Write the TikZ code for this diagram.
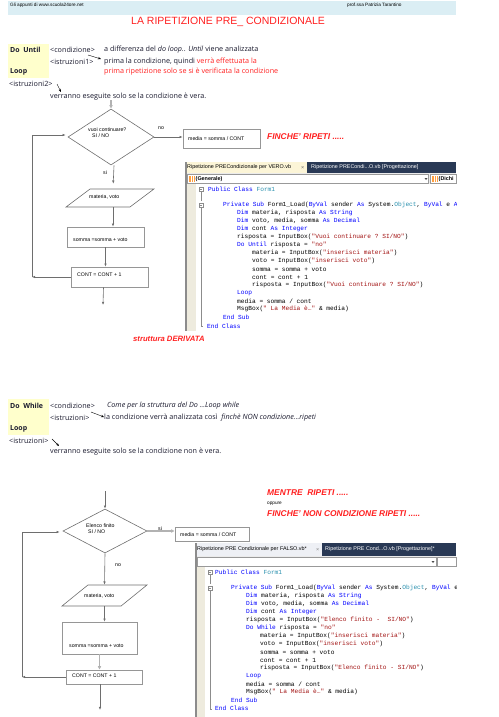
\documentclass[tikz,border=0pt]{standalone}
\usepackage{fontspec}
\setmainfont{Liberation Sans}
\setmonofont{Liberation Mono}
\newfontfamily\comicfont{Open Sans}
\usetikzlibrary{positioning}
\usetikzlibrary{calc}
\usetikzlibrary{arrows.meta}
\usetikzlibrary{shapes.geometric}
\definecolor{hdrblue}{RGB}{219,238,244}
\definecolor{notered}{RGB}{255,32,32}
\definecolor{noteyellow}{RGB}{255,255,204}
\definecolor{boxgray}{RGB}{150,150,150}
\definecolor{linegray}{RGB}{110,110,110}
\definecolor{vbblue}{RGB}{0,0,255}
\definecolor{vbred}{RGB}{163,21,21}
\definecolor{vbteal}{RGB}{43,145,175}
\definecolor{tabnavy}{RGB}{41,57,85}
\definecolor{tabcream}{RGB}{252,245,215}
\definecolor{tabpale}{RGB}{238,240,245}
\definecolor{gutter}{RGB}{238,235,222}
\definecolor{textink}{RGB}{25,25,45}

\newcommand{\vbkw}[1]{\textcolor{vbblue}{#1}}
\newcommand{\vbstr}[1]{\textcolor{vbred}{#1}}
\newcommand{\vbtyp}[1]{\textcolor{vbteal}{#1}}
\newcommand{\rosso}[1]{\textcolor{notered}{#1}}

\tikzset{
  body/.style={anchor=west, inner sep=0pt, text=textink, font=\comicfont\fontsize{7.2}{8}\selectfont},
  bodybold/.style={body, font=\comicfont\bfseries\fontsize{7}{8}\selectfont},
  note/.style={anchor=west, inner sep=0pt, text=notered, font=\bfseries\itshape\fontsize{8.4}{9}\selectfont},
  tinytext/.style={anchor=west, inner sep=0pt, font=\fontsize{4.7}{5}\selectfont},
  tabtext/.style={anchor=west, inner sep=0pt, font=\fontsize{5.4}{6}\selectfont},
  lbl/.style={anchor=west, inner sep=0pt, align=left, font=\fontsize{5.2}{6}\selectfont},
  codeline/.style={anchor=west, inner sep=0pt, font=\ttfamily\fontsize{6.2}{7}\selectfont},
  flowbox/.style={draw=boxgray, line width=0.6pt, fill=white, inner sep=0pt},
  decision/.style={diamond, draw=linegray, line width=0.6pt, inner sep=0pt},
  inout/.style={trapezium, trapezium stretches=true, draw=linegray, line width=0.6pt, inner sep=2pt},
  flowline/.style={draw=linegray, line width=0.6pt},
  flowarrow/.style={flowline, -{Latex[length=3.2pt,width=2.6pt]}},
  widearrow/.style={draw=black!30, line width=1.5pt, -{Latex[length=3.5pt,width=3.8pt]}},
  pointer/.style={draw=black, line width=0.4pt, -{Stealth[length=3pt,width=2.4pt]}}
}

\begin{document}
\begin{tikzpicture}[x=1pt,y=-1pt]
\useasboundingbox (0,0) rectangle (498,717);

% intestazione
\fill[hdrblue] (8,1) rectangle (456,15);
\node[tinytext] (hleft) at (10,5) {Gli appunti di www.scuola24ore.net};
\node[tinytext] (hright) at (347,5) {prof.ssa Patrizia Tarantino};
\node[anchor=west, inner sep=0pt, text=notered, font=\fontsize{10.5}{12}\selectfont] (titolo) at (131,22) {LA RIPETIZIONE PRE\_ CONDIZIONALE};

% --- Do Until ---
\fill[noteyellow] (8,44) rectangle (49,78);
\node[bodybold] (until) at (10,50) {Do\ \ Until};
\node[bodybold] (loopa) at (10,72) {Loop};
\node[body] (conda) at (50,50) {<condizione>};
\node[body] (istra) at (50,62) {<istruzioni1>};
\node[body] (istrb) at (9,84) {<istruzioni2>};
\node[body] (ua1) at (104,50) {a differenza del \textit{do loop.}. \textit{Until} viene analizzata};
\node[body] (ua2) at (104,62) {prima la condizione, quindi \rosso{verrà effettuata la}};
\node[body, text=notered] (ua3) at (104,72) {prima ripetizione solo se si è verificata la condizione};
\node[body] (ua4) at (50,97) {verranno eseguite solo se la condizione è vera.};
\coordinate (pa1) at (88,55);
\coordinate (pa2) at (101,59);
\coordinate (pb1) at (57,84);
\coordinate (pb2) at (61,92);
\draw[pointer] (pa1) -- (pa2);
\draw[pointer] (pb1) -- (pb2);

% diagramma per VERO
\coordinate (t0) at (111,100);
\node[decision, minimum width=86pt, minimum height=56pt] (d1) at (111,137) {};
\node[lbl] (d1t) at (88,133) {vuoi continuare?\\\hspace*{4pt}SI / NO};
\node[flowbox, minimum width=77pt, minimum height=19pt] (m1) at (221.5,138.5) {};
\node[lbl] (m1t) at (188,139) {media = somma / CONT};
\node[inout, trapezium left angle=59, trapezium right angle=121, minimum width=88pt, minimum height=18pt] (p1) at (110,198) {};
\node[lbl] (p1t) at (89,197) {materia, voto};
\node[flowbox, minimum width=77pt, minimum height=20pt] (s1) at (105.5,237) {};
\node[lbl] (s1t) at (73,240) {somma =somma + voto};
\node[flowbox, minimum width=77pt, minimum height=20pt] (c1) at (109.5,277) {};
\node[lbl] (c1t) at (77,275) {CONT = CONT + 1};
\node[lbl] (no1) at (158,128) {no};
\node[lbl] (si1) at (103,173) {si};
\coordinate (lp0) at (32,277);
\coordinate (lp1) at (32,135);
\coordinate (e1) at (103,305);
\draw[widearrow] (t0) -- (d1.north);
\draw[flowarrow] (d1.east) -- (m1.west |- d1.east);
\draw[flowarrow, shorten >=5pt] (d1.south) ++(3,0) -- ($(p1.north)+(3,0)$);
\draw[flowarrow] ($(p1.south)+(3,0)$) -- ($(p1.south |- s1.north)+(3,0)$);
\draw[flowarrow] (s1.south) -- (s1.south |- c1.north);
\draw[flowarrow] (c1.west) -- (lp0);
\draw[flowline] (lp0) -- (lp1);
\draw[flowarrow, shorten >=2pt] (lp1) -- (lp1 -| d1.west);
\draw[flowarrow] (c1.south) ++(-6,0) -- (e1);
\node[note] (finche1) at (267,137) {FINCHE' RIPETI .....};
\node[note, font=\bfseries\itshape\fontsize{7.7}{9}\selectfont] (derivata) at (133,339) {struttura DERIVATA};

% finestra codice per VERO
\fill[white] (186,162) rectangle (456,331);
\fill[tabnavy] (186,162) rectangle (456,173);
\fill[tabcream] (186,162) rectangle (307,173);
\node[tabtext] (tabv1) at (187,167.5) {Ripetizione PRECondizionale per VERO.vb};
\node[tabtext, text=black!60] (tabx1) at (301,167.5) {×};
\node[tabtext, text=white] (tabv2) at (311,167.5) {Ripetizione PRECondi...O.vb [Progettazione]};
\fill[black!8] (186,173) rectangle (456,184);
\draw[black!40, fill=white, line width=0.4pt] (187,174) rectangle (428.5,183.5);
\draw[black!40, fill=white, line width=0.4pt] (430,174) rectangle (456,183.5);
\fill[orange!75] (188.5,175.5) rectangle (195,182);
\fill[orange!75] (431.5,175.5) rectangle (438,182);
\draw[white, line width=0.3pt] (190.7,175.5) -- (190.7,182) (192.9,175.5) -- (192.9,182) (433.7,175.5) -- (433.7,182) (435.9,175.5) -- (435.9,182);
\node[tabtext, font=\bfseries\fontsize{5.4}{6}\selectfont] (gen1) at (195.5,178.8) {(Generale)};
\node[tabtext, font=\bfseries\fontsize{5.4}{6}\selectfont] (dich1) at (438.5,178.8) {(Dichi};
\fill[black!70] (424.5,178) -- (427.5,178) -- (426,180) -- cycle;
\begin{scope}
  \clip (186,184) rectangle (456,331);
  \fill[gutter] (187,184) rectangle (196,331);
  \draw[black!45, line width=0.3pt] (199,187) rectangle (203,191) (200,189) -- (202,189);
  \draw[black!45, line width=0.3pt] (199,203) rectangle (203,207) (200,205) -- (202,205);
  \draw[black!45, line width=0.3pt] (201,191) -- (201,201) (201,207) -- (201,326) -- (203,326);
  \foreach \cy/\cx/\ct in {
    189/208/{\vbkw{Public Class} \vbtyp{Form1}},
    205/223/{\vbkw{Private Sub} Form1\_Load(\vbkw{ByVal} sender \vbkw{As} System.\vbtyp{Object}, \vbkw{ByVal} e \vbkw{A}},
    213/237/{\vbkw{Dim} materia, risposta \vbkw{As String}},
    221/237/{\vbkw{Dim} voto, media, somma \vbkw{As Decimal}},
    229/237/{\vbkw{Dim} cont \vbkw{As Integer}},
    237/237/{risposta = InputBox(\vbstr{"Vuoi continuare ? SI/NO"})},
    245/237/{\vbkw{Do Until} risposta = \vbstr{"no"}},
    253/252/{materia = InputBox(\vbstr{"inserisci materia"})},
    261/252/{voto = InputBox(\vbstr{"inserisci voto"})},
    269/252/{somma = somma + voto},
    277/252/{cont = cont + 1},
    285/252/{risposta = InputBox(\vbstr{"Vuoi continuare ? SI/NO"})},
    293/237/{\vbkw{Loop}},
    301/237/{media = somma / cont},
    309/237/{MsgBox(\vbstr{" La Media è…"} \& media)},
    317/223/{\vbkw{End Sub}},
    326/207/{\vbkw{End Class}}
  } {
    \node[codeline] (wa\cy) at (\cx,\cy) {\ct};
  }
\end{scope}
\draw[black!45, line width=1.2pt] (186,162) -- (186,331);

% --- Do While ---
\fill[noteyellow] (8,399) rectangle (49,435);
\node[bodybold] (while) at (10,406) {Do\ \ While};
\node[bodybold] (loopb) at (10,429) {Loop};
\node[body] (condb) at (50,406) {<condizione>};
\node[body] (istrc) at (50,418) {<istruzioni>};
\node[body] (istrd) at (9,441) {<istruzioni>};
\node[body] (ub1) at (107,406) {\textit{Come per la struttura del Do ...Loop while}};
\node[body] (ub2) at (104,418) {la condizione verrà analizzata così \ \textit{finchè NON condizione...ripeti}};
\node[body] (ub3) at (50,452) {verranno eseguite solo se la condizione non è vera.};
\coordinate (pc1) at (91,412);
\coordinate (pc2) at (104,417);
\coordinate (pd1) at (52,439);
\coordinate (pd2) at (59,446);
\draw[pointer] (pc1) -- (pc2);
\draw[pointer] (pd1) -- (pd2);
\node[note] (mentre) at (267,493) {MENTRE \ RIPETI .....};
\node[tinytext] (oppure) at (267,504) {oppure};
\node[note] (finche2) at (267,514) {FINCHE' NON CONDIZIONE RIPETI .....};

% diagramma per FALSO
\coordinate (t1) at (105,491);
\node[decision, minimum width=84pt, minimum height=44pt] (d2) at (105,531) {};
\node[lbl] (d2t) at (86,529) {Elenco finito\\\hspace*{2pt}SI / NO};
\node[flowbox, minimum width=74pt, minimum height=14pt] (m2) at (212,534) {};
\node[lbl] (m2t) at (180,535) {media = somma / CONT};
\node[inout, trapezium left angle=52, trapezium right angle=128, minimum width=85pt, minimum height=21pt] (p2) at (104.5,595.5) {};
\node[lbl] (p2t) at (84,596) {materia, voto};
\node[flowbox, minimum width=75pt, minimum height=32pt] (s2) at (99.5,638) {};
\node[lbl] (s2t) at (69,646) {somma =somma + voto};
\node[flowbox, minimum width=76pt, minimum height=14pt] (c2) at (104,677) {};
\node[lbl] (c2t) at (72,676) {CONT = CONT + 1};
\node[lbl] (si2) at (158,529) {si};
\node[lbl] (no2) at (115,565) {no};
\coordinate (lq0) at (22,677);
\coordinate (lq1) at (22,532);
\coordinate (e2) at (100,710);
\draw[flowarrow] (t1) -- (d2.north);
\draw[widearrow] (d2.east) -- (m2.west |- d2.east);
\draw[flowarrow] (d2.south) -- (p2.north);
\draw[flowarrow] (p2.south) -- (p2.south |- s2.north);
\draw[widearrow] (s2.south) -- (s2.south |- c2.north);
\draw[flowarrow] (c2.west) -- (lq0);
\draw[flowline] (lq0) -- (lq1);
\draw[flowarrow, shorten >=3pt] (lq1) -- (lq1 -| d2.west);
\draw[flowarrow] (c2.south) ++(-4,0) -- (e2);

% finestra codice per FALSO
\fill[white] (196,543) rectangle (456,717);
\fill[tabnavy] (196,543) rectangle (456,556);
\fill[tabpale] (196,543) rectangle (322,556);
\node[tabtext] (tabf1) at (197,549.5) {Ripetizione PRE Condizionale per FALSO.vb*};
\node[tabtext, text=black!50] (tabx2) at (316,549.5) {×};
\node[tabtext, text=white] (tabf2) at (325,549.5) {Ripetizione PRE Cond...O.vb [Progettazione]*};
\fill[black!8] (196,556) rectangle (456,567);
\draw[black!40, fill=white, line width=0.4pt] (197,557) rectangle (436,566.5);
\draw[black!40, fill=white, line width=0.4pt] (437.5,557) rectangle (456,566.5);
\fill[black!70] (431.5,561) -- (434.5,561) -- (433,563) -- cycle;
\begin{scope}
  \clip (196,567) rectangle (456,717);
  \fill[gutter] (197,567) rectangle (205,717);
  \draw[black!45, line width=0.3pt] (208,570) rectangle (212,574) (209,572) -- (211,572);
  \draw[black!45, line width=0.3pt] (208,586) rectangle (212,590) (209,588) -- (211,588);
  \draw[black!45, line width=0.3pt] (210,574) -- (210,584) (210,590) -- (210,709) -- (212,709);
  \foreach \cy/\cx/\ct in {
    572/215/{\vbkw{Public Class} \vbtyp{Form1}},
    588/231/{\vbkw{Private Sub} Form1\_Load(\vbkw{ByVal} sender \vbkw{As} System.\vbtyp{Object}, \vbkw{ByVal} e},
    596/246/{\vbkw{Dim} materia, risposta \vbkw{As String}},
    604/246/{\vbkw{Dim} voto, media, somma \vbkw{As Decimal}},
    612/246/{\vbkw{Dim} cont \vbkw{As Integer}},
    620/246/{risposta = InputBox(\vbstr{"Elenco finito - \ SI/NO"})},
    628/246/{\vbkw{Do While} risposta = \vbstr{"no"}},
    636/260/{materia = InputBox(\vbstr{"inserisci materia"})},
    644/260/{voto = InputBox(\vbstr{"inserisci voto"})},
    652/260/{somma = somma + voto},
    660/260/{cont = cont + 1},
    668/260/{risposta = InputBox(\vbstr{"Elenco finito - SI/NO"})},
    676/246/{\vbkw{Loop}},
    684/246/{media = somma / cont},
    692/246/{MsgBox(\vbstr{" La Media è…"} \& media)},
    700/231/{\vbkw{End Sub}},
    708/215/{\vbkw{End Class}}
  } {
    \node[codeline] (wb\cy) at (\cx,\cy) {\ct};
  }
\end{scope}
\draw[black!45, line width=1.2pt] (196,543) -- (196,717);
\end{tikzpicture}
\end{document}
